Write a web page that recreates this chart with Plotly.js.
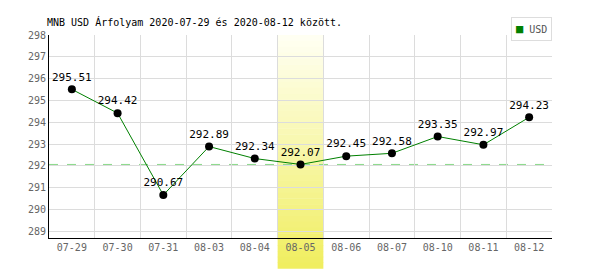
<!DOCTYPE html>
<html><head><meta charset="utf-8">
<script src="https://cdn.plot.ly/plotly-3.0.1.min.js"></script>
<style>html,body{margin:0;padding:0;background:#fff}#chart{width:600px;height:270px}</style>
</head><body><div id="chart"></div>
<script>
const dates = ["07-29","07-30","07-31","08-03","08-04","08-05","08-06","08-07","08-10","08-11","08-12"];
const usdValues = [295.51, 294.42, 290.67, 292.89, 292.34, 292.07, 292.45, 292.58, 293.35, 292.97, 294.23];
const valueLabels = ["295.51","294.42","290.67","292.89","292.34","292.07","292.45","292.58","293.35","292.97","294.23"];
const highlightIndex = 5;
const yTicks = [289,290,291,292,293,294,295,296,297,298];
const seriesName = "USD";

const mono = "DejaVu Sans Mono, monospace";
const shapes = [];
const steps = 40, yTop = 1.0, yBot = -0.15;
const c0 = [255,255,242], c1 = [240,238,96];
for (let i = 0; i < steps; i++) {
  const t = i / (steps - 1);
  const c = c0.map((v, k) => Math.round(v + (c1[k] - v) * t));
  shapes.push({type:'rect', xref:'x', yref:'paper',
    x0: highlightIndex - 0.5, x1: highlightIndex + 0.5,
    y0: yTop - (yTop - yBot) * (i + 1) / steps - 0.002,
    y1: yTop - (yTop - yBot) * i / steps,
    fillcolor: `rgb(${c[0]},${c[1]},${c[2]})`, line:{width:0}, layer:'between'});
}
shapes.push({type:'line', xref:'paper', yref:'y', x0:0, x1:1,
  y0: usdValues[highlightIndex], y1: usdValues[highlightIndex],
  line:{color:'#88d888', width:1, dash:'dash'}, layer:'between'});

const traces = [
  {x: dates, y: usdValues, text: valueLabels, mode:'lines+markers+text', name: seriesName,
   textposition:'top center', textfont:{family:mono, size:11, color:'#000'},
   line:{color:'#008000', width:1}, marker:{color:'#000', size:8},
   showlegend:false, cliponaxis:false, hoverinfo:'none'}
];

const layout = {
  width:600, height:270,
  margin:{l:49, r:48, t:35, b:32},
  paper_bgcolor:'#fff', plot_bgcolor:'#fff',
  font:{family:mono, size:10, color:'#555'},
  title:{text:'MNB USD Árfolyam 2020-07-29 és 2020-08-12 között.', xref:'container', x:47/600, xanchor:'left',
         yref:'container', y:1-22/270, yanchor:'middle', font:{family:mono, size:10, color:'#000'}},
  xaxis:{type:'category', categoryarray:dates, range:[-0.5,10.5], tickson:'boundaries',
         showgrid:true, gridcolor:'#dcdcdc', gridwidth:1, ticks:'', showline:true, linecolor:'#000', linewidth:1,
         tickfont:{family:mono, size:10, color:'#666'}, zeroline:false, fixedrange:true},
  yaxis:{range:[288.7, 298], tickvals:yTicks, showgrid:true, gridcolor:'#dcdcdc', gridwidth:1,
         showline:true, linecolor:'#000', linewidth:1, ticks:'', zeroline:false,
         tickfont:{family:mono, size:10, color:'#666'}, fixedrange:true},
  showlegend:false,
  annotations:[{xref:'paper', yref:'paper', x:1, xanchor:'right', y:1.089, yanchor:'top',
    text:'<span style="color:#008000;font-size:12px">■</span> ' + seriesName, showarrow:false,
    font:{family:mono, size:10, color:'#555'}, bgcolor:'#fff', bordercolor:'#ddd', borderwidth:1, borderpad:4}],
  shapes: shapes
};
Plotly.newPlot('chart', traces, layout, {displayModeBar:false, staticPlot:true});
</script></body></html>
